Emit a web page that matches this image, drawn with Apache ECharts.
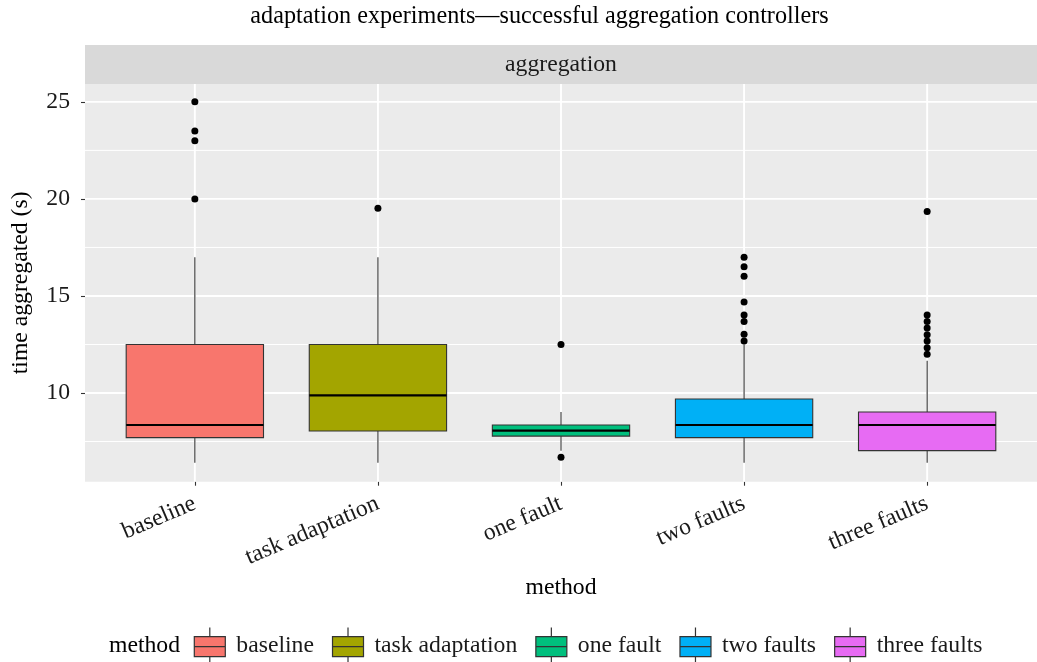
<!DOCTYPE html>
<html><head><meta charset="utf-8">
<script src="https://cdn.jsdelivr.net/npm/echarts@6/dist/echarts.min.js"></script>
<style>html,body{margin:0;padding:0;background:#fff}#c{width:1037px;height:662px}</style>
</head><body><div id="c"></div>
<script>
// ---- data ----
const categories = ['baseline', 'task adaptation', 'one fault', 'two faults', 'three faults'];
const colors = ['#F8766D', '#A3A500', '#00BF7D', '#00B0F6', '#E76BF3'];
const whiskerLow  = [6.4, 6.4, 7.03, 6.4, 6.4];
const q1          = [7.7, 8.04, 7.78, 7.7, 7.03];
const median      = [8.35, 9.88, 8.06, 8.35, 8.35];
const q3          = [12.5, 12.5, 8.35, 9.69, 9.02];
const whiskerHigh = [17.0, 17.0, 9.02, 12.5, 11.66];
const outliers = [
  [25.0, 23.5, 23.0, 20.0],
  [19.52],
  [12.5, 6.69],
  [17.0, 16.51, 16.01, 14.69, 14.02, 13.68, 13.03, 12.68],
  [19.35, 14.02, 13.68, 13.35, 13.0, 12.68, 12.33, 12.0]
];
const yTicks = [10, 15, 20, 25];
const yMinor = [7.5, 12.5, 17.5, 22.5];
const xPositions = [1, 2, 3, 4, 5];

const FONT = 'Liberation Serif';
const FS = 23.7;
const BOX_W = 0.75;

const chart = echarts.init(document.getElementById('c'), null, {renderer: 'canvas'});

function hLineRender(width) {
  return function (params, api) {
    const cs = params.coordSys;
    const y = api.coord([1, api.value(1)])[1];
    return {type: 'line', silent: true,
      shape: {x1: cs.x, y1: y, x2: cs.x + cs.width, y2: y},
      style: {stroke: '#FFFFFF', lineWidth: width}};
  };
}
function vLineRender(width) {
  return function (params, api) {
    const cs = params.coordSys;
    const x = api.coord([api.value(0), 10])[0];
    return {type: 'line', silent: true,
      shape: {x1: x, y1: cs.y, x2: x, y2: cs.y + cs.height},
      style: {stroke: '#FFFFFF', lineWidth: width}};
  };
}
function boxRender(params, api) {
  const x = api.value(0);
  const lo = api.coord([x, api.value(1)]);
  const b1 = api.coord([x, api.value(2)]);
  const md = api.coord([x, api.value(3)]);
  const b3 = api.coord([x, api.value(4)]);
  const hi = api.coord([x, api.value(5)]);
  const w = api.size([BOX_W, 0], [x, api.value(3)])[0];
  const cx = lo[0];
  const color = api.visual('color');
  return {type: 'group', children: [
    {type: 'line', shape: {x1: cx, y1: hi[1], x2: cx, y2: b3[1]}, style: {stroke: '#333333', lineWidth: 1.1}},
    {type: 'line', shape: {x1: cx, y1: b1[1], x2: cx, y2: lo[1]}, style: {stroke: '#333333', lineWidth: 1.1}},
    {type: 'rect', shape: {x: cx - w / 2, y: b3[1], width: w, height: b1[1] - b3[1]}, style: {fill: color, stroke: '#333333', lineWidth: 1.1}},
    {type: 'line', shape: {x1: cx - w / 2, y1: md[1], x2: cx + w / 2, y2: md[1]}, style: {stroke: '#000000', lineWidth: 2.2}}
  ]};
}

const series = [
  {type: 'custom', name: 'gridMinor', z: 1, silent: true, renderItem: hLineRender(1.0),
   encode: {x: 0, y: 1}, data: yMinor.map(v => [1, v])},
  {type: 'custom', name: 'gridMajor', z: 1, silent: true, renderItem: hLineRender(1.9),
   encode: {x: 0, y: 1}, data: yTicks.map(v => [1, v])},
  {type: 'custom', name: 'gridX', z: 1, silent: true, renderItem: vLineRender(1.9),
   encode: {x: 0, y: 1}, data: xPositions.map(v => [v, 10])}
];
categories.forEach((c, i) => {
  series.push({
    type: 'custom', name: c, z: 3, renderItem: boxRender,
    itemStyle: {color: colors[i]},
    encode: {x: 0, y: [1, 2, 3, 4, 5]},
    data: [[xPositions[i], whiskerLow[i], q1[i], median[i], q3[i], whiskerHigh[i]]]
  });
});
const outlierData = [];
outliers.forEach((arr, i) => arr.forEach(v => outlierData.push([xPositions[i], v])));
series.push({type: 'scatter', name: 'outliers', z: 4, symbol: 'circle', symbolSize: 7,
  itemStyle: {color: '#000000', opacity: 1}, data: outlierData});

const legendIcon = 'path://M0,0M40,37M3,9L34,9L34,29L3,29ZM3,19L34,19M18.5,0L18.5,9M18.5,29L18.5,37';

chart.setOption({
  animation: false,
  backgroundColor: '#FFFFFF',
  textStyle: {fontFamily: FONT},
  grid: {left: 85, right: 0, top: 84, bottom: 180.3, show: true, backgroundColor: '#EBEBEB',
         borderWidth: 0, outerBoundsMode: 'none'},
  xAxis: {
    type: 'value', min: 0.4, max: 5.6,
    name: 'method', nameLocation: 'middle', nameGap: 94, nameMoveOverlap: false,
    nameTextStyle: {fontFamily: FONT, fontSize: FS, color: '#000000'},
    axisLine: {show: false},
    axisTick: {show: true, customValues: xPositions, length: 4, lineStyle: {color: '#333333', width: 1.1}},
    axisLabel: {show: true, customValues: xPositions, rotate: 23, margin: 21, hideOverlap: false,
      fontFamily: FONT, fontSize: FS, color: '#1A1A1A',
      formatter: v => categories[Math.round(v) - 1] || ''},
    splitLine: {show: false}, minorSplitLine: {show: false}
  },
  yAxis: {
    type: 'value', min: 5.43, max: 25.92,
    name: 'time aggregated (s)', nameLocation: 'middle', nameGap: 52, nameRotate: 90, nameMoveOverlap: false,
    nameTextStyle: {fontFamily: FONT, fontSize: FS, color: '#000000'},
    axisLine: {show: false},
    axisTick: {show: true, customValues: yTicks, length: 4, lineStyle: {color: '#333333', width: 1.1}},
    axisLabel: {show: true, customValues: yTicks, margin: 15, hideOverlap: false,
      fontFamily: FONT, fontSize: FS, color: '#1A1A1A'},
    splitLine: {show: false}, minorSplitLine: {show: false}
  },
  legend: {
    show: true, orient: 'horizontal', left: 190.7, top: 627, padding: 0,
    itemWidth: 40, itemHeight: 37, itemGap: 15, selectedMode: false,
    textStyle: {fontFamily: FONT, fontSize: FS, color: '#1A1A1A'},
    data: categories.map((c, i) => ({name: c, icon: legendIcon,
      itemStyle: {color: colors[i], borderColor: '#333333', borderWidth: 1.2}}))
  },
  graphic: [
    {type: 'text', x: 539.5, y: 17, silent: true,
     style: {text: 'adaptation experiments\u2014successful aggregation controllers', fontFamily: FONT, fontSize: 24.2,
             fill: '#000000', align: 'center', verticalAlign: 'middle'}},
    {type: 'rect', x: 85, y: 45, silent: true, z: 10,
     shape: {width: 952, height: 39}, style: {fill: '#D9D9D9'}},
    {type: 'text', x: 561, y: 64.5, silent: true, z: 11,
     style: {text: 'aggregation', fontFamily: FONT, fontSize: FS, fill: '#1A1A1A', align: 'center', verticalAlign: 'middle'}},
    {type: 'text', x: 109, y: 645.5, silent: true,
     style: {text: 'method', fontFamily: FONT, fontSize: FS, fill: '#000000', align: 'left', verticalAlign: 'middle'}}
  ],
  series: series
});
</script></body></html>
